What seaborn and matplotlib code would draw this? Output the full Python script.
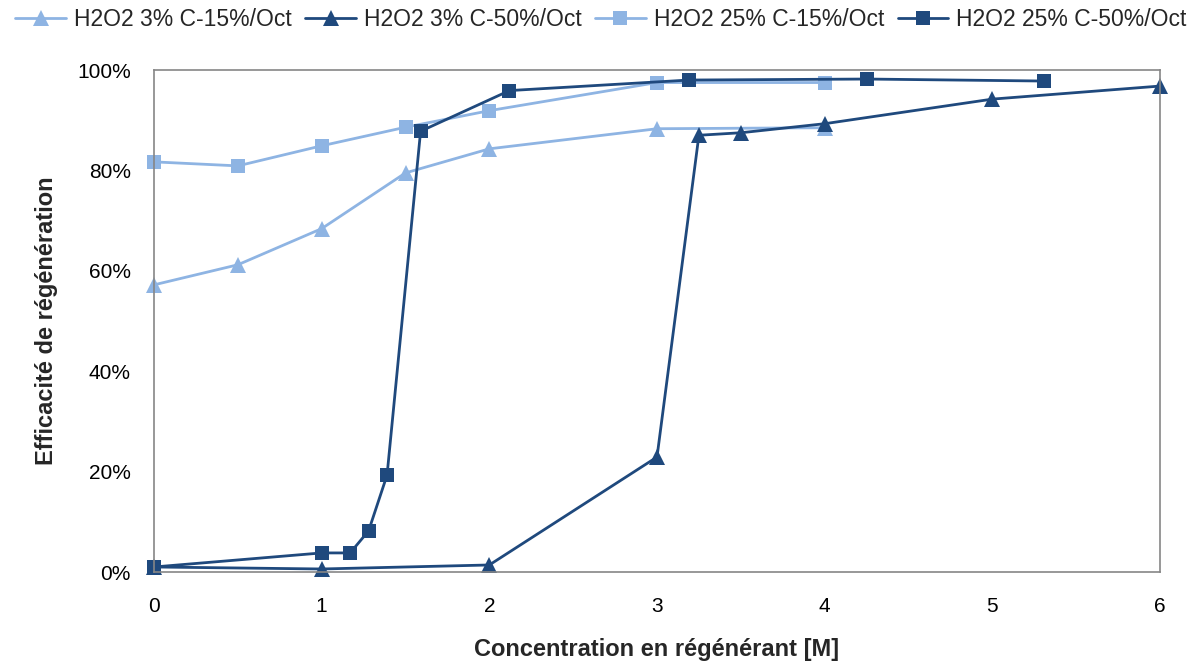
import pandas as pd
import seaborn as sns
import matplotlib.pyplot as plt
from matplotlib.ticker import PercentFormatter

# Data
x_3_15 = [0, 0.5, 1, 1.5, 2, 3, 4]
y_3_15 = [57.2, 61.2, 68.4, 79.5, 84.3, 88.3, 88.5]

x_3_50 = [0, 1, 2, 3, 3.25, 3.5, 4, 5, 6]
y_3_50 = [1.0, 0.6, 1.4, 22.9, 87.0, 87.5, 89.3, 94.2, 96.8]

x_25_15 = [0, 0.5, 1, 1.5, 2, 3, 4]
y_25_15 = [81.7, 80.9, 84.9, 88.6, 91.9, 97.5, 97.5]

x_25_50 = [0, 1, 1.17, 1.28, 1.39, 1.59, 2.12, 3.19, 4.25, 5.31]
y_25_50 = [1.0, 3.8, 3.8, 8.2, 19.3, 87.8, 95.9, 98.0, 98.2, 97.8]

labels = ["H2O2 3% C-15%/Oct", "H2O2 3% C-50%/Oct",
          "H2O2 25% C-15%/Oct", "H2O2 25% C-50%/Oct"]

frames = []
for lab, xs, ys in zip(labels, [x_3_15, x_3_50, x_25_15, x_25_50],
                       [y_3_15, y_3_50, y_25_15, y_25_50]):
    frames.append(pd.DataFrame({"conc": xs, "eff": ys, "serie": lab}))
df = pd.concat(frames, ignore_index=True)

light = "#8EB4E3"
dark = "#1F497D"
palette = {labels[0]: light, labels[1]: dark, labels[2]: light, labels[3]: dark}
markers = {labels[0]: "^", labels[1]: "^", labels[2]: "s", labels[3]: "s"}

sns.set_style("white")
plt.rcParams['font.family'] = ['Liberation Sans', 'DejaVu Sans']

fig = plt.figure(figsize=(12.02, 6.64), dpi=100)
ax = fig.add_axes([154 / 1202, 1 - 572 / 664, (1160 - 154) / 1202, (572 - 70) / 664])

sns.lineplot(data=df, x="conc", y="eff", hue="serie", style="serie",
             hue_order=labels, style_order=labels, palette=palette,
             markers=markers, dashes=False, sort=False, linewidth=2.0,
             markersize=10, markeredgewidth=0, ax=ax)

for line in ax.lines:
    line.set_clip_on(False)
    if line.get_marker() == "^":
        line.set_markersize(12)
    elif line.get_marker() == "s":
        line.set_markersize(9.5)

ax.set_xlim(0, 6)
ax.set_ylim(0, 100)
ax.set_xticks(range(0, 7))
ax.set_yticks(range(0, 101, 20))
ax.yaxis.set_major_formatter(PercentFormatter(decimals=0))
ax.tick_params(axis="both", direction="out", length=5.8, width=1, color="#868686",
               labelsize=15, labelcolor="#000000")
ax.tick_params(axis="x", pad=12.5)
ax.tick_params(axis="y", pad=11)
for sp in ax.spines.values():
    sp.set_color("#868686")
    sp.set_linewidth(1.2)

ax.set_xlabel("Concentration en régénérant [M]", fontsize=17, fontweight="bold")
ax.set_ylabel("Efficacité de régénération", fontsize=17, fontweight="bold")
ax.xaxis.set_label_coords(0.5, (572 - 638) / 502)
ax.yaxis.set_label_coords((58 - 154) / 1006, 0.5)

handles, labs = ax.get_legend_handles_labels()
for h in handles:
    if h.get_marker() == "^":
        h.set_markersize(12)
    elif h.get_marker() == "s":
        h.set_markersize(9.5)
ax.legend(handles, labs, loc="center", bbox_to_anchor=(0.5, 1 - 20 / 664),
          bbox_transform=fig.transFigure, ncol=4, frameon=False, fontsize=16.5,
          handlelength=2.2, handletextpad=0.35, columnspacing=0.6)

fig.savefig("out.png", dpi=100)
